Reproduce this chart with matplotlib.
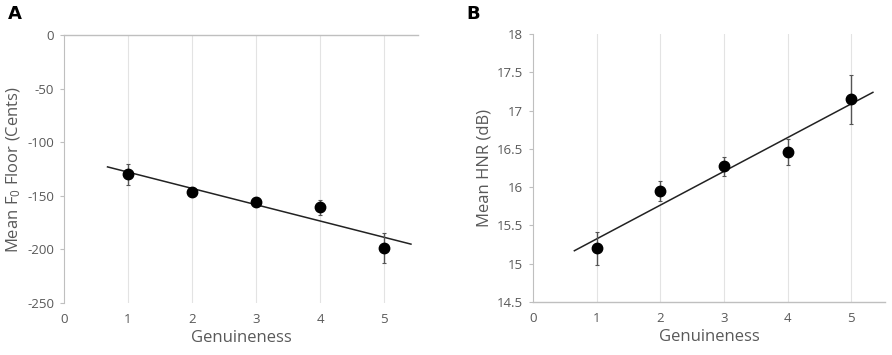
import numpy as np
import matplotlib.pyplot as plt

plt.rcParams['font.family'] = ['Open Sans', 'DejaVu Sans']
plt.rcParams['mathtext.fontset'] = 'custom'
plt.rcParams['mathtext.rm'] = 'Open Sans'
plt.rcParams['mathtext.it'] = 'Open Sans'

genuineness = [1, 2, 3, 4, 5]

f0_floor = [-130, -146.5, -155.5, -160.5, -199]
f0_err = [10, 4, 3, 7, 14]

hnr = [15.2, 15.95, 16.27, 16.46, 17.15]
hnr_err = [0.22, 0.135, 0.13, 0.17, 0.32]

gray = '#595959'
axcol = '#bfbfbf'

fig = plt.figure(figsize=(8.92, 3.55), dpi=100)
axA = fig.add_axes([64/892, 1 - 303/355, 354/892, 268/355])
axB = fig.add_axes([533/892, 1 - 302/355, 352/892, 268/355])


def panel(ax, y, err, ylim, yticks, ylabel, fit_range, axis_at):
    ax.set_xlim(0, 5.53)
    ax.set_ylim(*ylim)
    for x in genuineness:
        ax.axvline(x, color='#e3e3e3', lw=0.8, zorder=0)
    ax.errorbar(genuineness, y, yerr=err, fmt='o', color='black', ms=7.5,
                ecolor='#555555', elinewidth=1, capsize=1.5, capthick=0.8, zorder=3)
    k, b = np.polyfit(genuineness, y, 1)
    xs = np.array(fit_range)
    ax.plot(xs, k * xs + b, color='#222222', lw=1.1, zorder=2)
    for s in ax.spines.values():
        s.set_visible(False)
    ax.spines['left'].set_visible(True)
    ax.spines['left'].set_color(axcol)
    ax.axhline(axis_at, color=axcol, lw=1, zorder=1, clip_on=False)
    ax.set_yticks(yticks)
    ax.set_xticks(range(6))
    ax.tick_params(axis='y', length=3, color=axcol, labelsize=9.5, labelcolor=gray, pad=4)
    ax.tick_params(axis='x', length=0, labelsize=9.5, labelcolor=gray, pad=7)
    ax.set_xlabel('Genuineness', fontsize=12, color=gray, labelpad=3)
    ax.set_ylabel(ylabel, fontsize=12, color=gray, labelpad=3)


panel(axA, f0_floor, f0_err, (-250, 0), [0, -50, -100, -150, -200, -250],
      'Mean F$_0$ Floor (Cents)', (0.68, 5.42), 0)
axA.set_yticklabels(['0', '-50', '-100', '-150', '-200', '-250'])

panel(axB, hnr, hnr_err, (14.5, 18), [14.5, 15, 15.5, 16, 16.5, 17, 17.5, 18],
      'Mean HNR (dB)', (0.65, 5.34), 14.5)
axB.set_yticklabels(['14.5', '15', '15.5', '16', '16.5', '17', '17.5', '18'])

fig.text(8/892, 1 - 19/355, 'A', fontsize=13, fontweight='bold', family='DejaVu Sans')
fig.text(466/892, 1 - 19/355, 'B', fontsize=13, fontweight='bold', family='DejaVu Sans')

fig.savefig('out.png', dpi=100)
